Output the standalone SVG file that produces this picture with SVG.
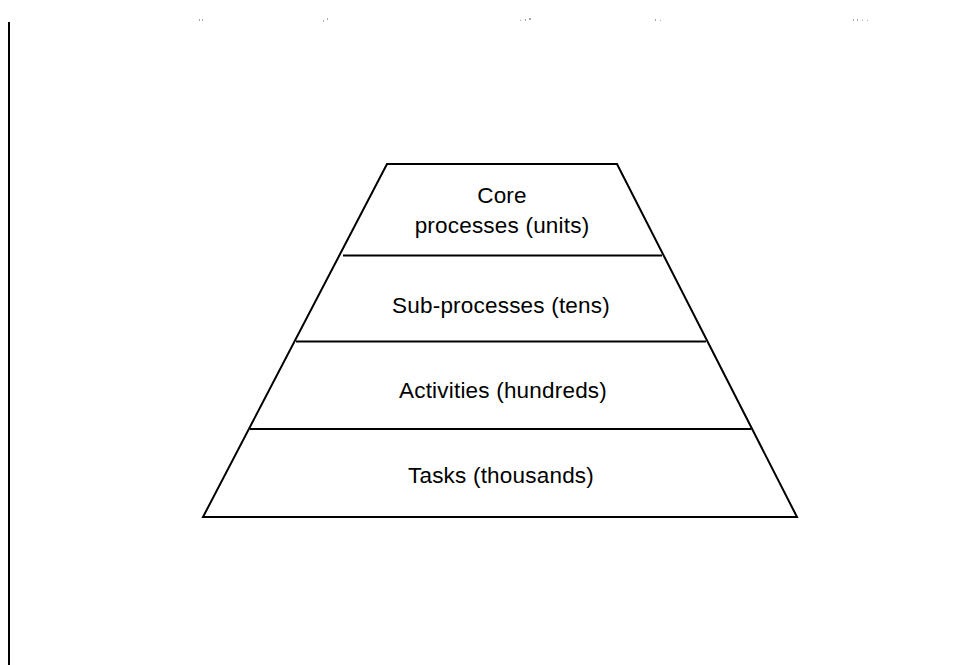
<svg xmlns="http://www.w3.org/2000/svg" width="979" height="665" viewBox="0 0 979 665">
<style>
.edge{fill:none;stroke:#000;stroke-width:2}
.lbl{font-family:"Liberation Sans",Arial,sans-serif;font-size:22.5px;letter-spacing:0.2px;fill:#000;text-anchor:middle}
.dot{fill:#aaa}
</style>
<rect width="979" height="665" fill="#fff"/>
<line x1="9" y1="22" x2="9" y2="665" stroke="#000" stroke-width="2"/>
<g id="artifacts">
<rect class="dot" x="199" y="19" width="1" height="2"/><rect class="dot" x="202" y="19" width="1" height="2"/>
<rect class="dot" x="323" y="20" width="1" height="2"/><rect class="dot" x="327" y="18" width="1" height="2"/>
<rect class="dot" x="520" y="20" width="1" height="1"/><rect class="dot" x="525" y="19" width="1" height="2"/><rect class="dot" x="529" y="18" width="2" height="2"/>
<rect class="dot" x="655" y="19" width="1" height="2"/><rect class="dot" x="660" y="20" width="1" height="1"/>
<rect class="dot" x="853" y="19" width="1" height="2"/><rect class="dot" x="857" y="19" width="1" height="2"/><rect class="dot" x="862" y="20" width="1" height="1"/><rect class="dot" x="867" y="20" width="1" height="1"/>
</g>
<g id="connectors">
<polygon class="edge" points="387,164 617,164 797,517 203,517"/>
</g>
<g id="core">
<line class="edge" x1="343" y1="255.5" x2="662" y2="255.5"/>
<text class="lbl" x="502" y="203">Core</text>
<text class="lbl" x="502" y="233">processes (units)</text>
</g>
<g id="sub">
<line class="edge" x1="296" y1="341.5" x2="706" y2="341.5"/>
<text class="lbl" x="501" y="313">Sub-processes (tens)</text>
</g>
<g id="activities">
<line class="edge" x1="250" y1="429" x2="751" y2="429"/>
<text class="lbl" x="503" y="398">Activities (hundreds)</text>
</g>
<g id="tasks">
<text class="lbl" x="501" y="483">Tasks (thousands)</text>
</g>
</svg>
